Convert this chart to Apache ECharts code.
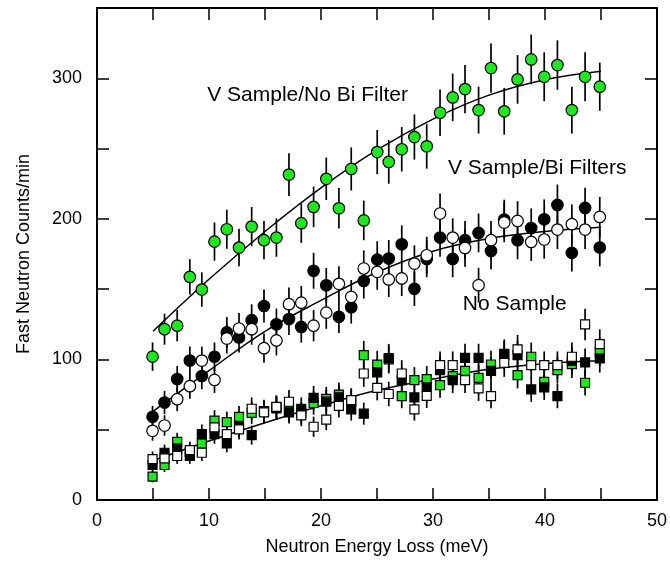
<!DOCTYPE html>
<html>
<head>
<meta charset="utf-8">
<script src="https://cdn.jsdelivr.net/npm/echarts@6/dist/echarts.min.js"></script>
<style>
html,body{margin:0;padding:0;background:#fff;}
#chart{width:670px;height:569px;}
</style>
</head>
<body>
<div id="chart"></div>
<script>
// Neutron energy loss (meV) of each measured bin
const energy = [4.96, 6.03, 7.16, 8.29, 9.36, 10.49, 11.59, 12.68, 13.81, 14.91, 16.02, 17.14, 18.24, 19.34, 20.47, 21.6, 22.7, 23.82, 25.02, 26.05, 27.21, 28.34, 29.44, 30.63, 31.76, 32.86, 34.07, 35.18, 36.36, 37.55, 38.77, 39.93, 41.11, 42.4, 43.58, 44.89];

// V Sample / No Bi Filter (green circles)
const vNoBi = [102, 121.5, 124, 158.7, 149.7, 183.8, 192.6, 179.6, 194.5, 184.8, 186.7, 231.5, 196.9, 208.5, 228.5, 207.5, 235.5, 198.9, 247.5, 240.5, 249.5, 258.2, 251.6, 275.5, 286.4, 292.3, 277.4, 307.3, 276.5, 299.2, 313.4, 301.1, 309.4, 277.4, 301.1, 294];

// V Sample / Bi Filters (black and open circles)
const vBiBlack = [59.2, 69.3, 86, 99.2, 88.2, 101.9, 119.2, 115.6, 127.9, 138, 125, 128.7, 123.1, 163.1, 152.7, 130.3, 137.2, 155.8, 171, 171.8, 181.9, 150.2, 171.5, 186.7, 171.5, 184.8, 190, 177.2, 199.5, 184.8, 193.5, 199.7, 209.9, 175.8, 207.8, 179.6];
const vBiOpen = [49.2, 53, 71.7, 81, 99.2, 85.4, 114.9, 122, 121.5, 108, 113.5, 139.3, 140.4, 124, 133.3, 153.8, 144.5, 164.7, 162.3, 156.9, 157.6, 168.2, 174.1, 203.8, 186.7, 179.3, 152.8, 184.8, 197.4, 198.5, 183.6, 185.3, 192.4, 196.2, 192.4, 201.4];

// No Sample (black, open and green squares)
const noSampleBlack = [24.9, 33.6, 36.7, 31.3, 46.9, 46.9, 40.3, 52, 46.2, 63.3, 65.1, 62.4, 64.9, 72.6, 70, 73, 64.5, 61.4, 90.8, 101, 85.3, 73, 80.1, 92.4, 85.3, 101.1, 101.1, 91.9, 104, 103, 78.7, 80.1, 73.9, 99, 97.9, 100.7];
const noSampleOpen = [29.1, 29.6, 31.3, 35.5, 33.6, 51.7, 46.9, 50.2, 64.9, 62.4, 66.3, 69.9, 60.2, 52.1, 57.2, 66.9, 71.1, 90, 79.8, 75.4, 90, 64.5, 74.1, 95.9, 95.9, 85.3, 79.4, 73.9, 97.5, 107.1, 95.9, 95.9, 95.9, 101.9, 124.9, 110.9];
const noSampleGreen = [16.6, 24.9, 41.4, 34, 40.3, 56.4, 55.4, 59.2, 62, 63, 66, 64, 62, 69, 72, 75, 70, 103, 96.3, 100, 73.9, 85.3, 86, 81.7, 88.1, 91.9, 86.9, 96.4, 103, 88.8, 101.9, 84.1, 92.4, 96.7, 83.4, 105.4];

// Smooth fitted curves
const fitEnergy = [5, 10, 15, 20, 25, 30, 35, 40, 45];
const fitNoBi = [120, 157, 191, 222, 249, 271, 288, 299, 305];
const fitBi = [63, 92, 120, 142, 162, 177, 186, 191, 194];
const fitNoSample = [28, 42, 55, 67, 78, 86, 93, 97, 99];

// Annotations [energy, counts, text]
const annotations = [
  [18.8, 288, 'V Sample/No Bi Filter'],
  [39.3, 236, 'V Sample/Bi Filters'],
  [37.3, 139.5, 'No Sample']
];

const xTickLabels = ['0', '10', '20', '30', '40', '50'];
const yTickLabels = ['0', '100', '200', '300'];

const FONT = '"Liberation Sans", Arial, Helvetica, sans-serif';
const GREEN = '#1ee81e';

function pairs(ys) { return energy.map((x, i) => [x, ys[i]]); }

function errorBars(ys) {
  return {
    type: 'custom',
    xAxisIndex: 0, yAxisIndex: 0,
    z: 1,
    silent: true,
    encode: { x: 0, y: 1 },
    data: energy.map((x, i) => [x, ys[i], Math.sqrt(ys[i])]),
    renderItem: function (params, api) {
      const x = api.value(0), y = api.value(1), e = api.value(2);
      const p1 = api.coord([x, y - e]);
      const p2 = api.coord([x, y + e]);
      return { type: 'line', shape: { x1: p1[0], y1: p1[1], x2: p2[0], y2: p2[1] },
               style: { stroke: '#000', lineWidth: 1.7 } };
    }
  };
}

function markers(ys, symbol, size, fill, z) {
  return {
    type: 'scatter', xAxisIndex: 0, yAxisIndex: 0, z: z, silent: true,
    symbol: symbol, symbolSize: size,
    itemStyle: { color: fill, borderColor: '#000', borderWidth: 1.2, opacity: 1 },
    data: pairs(ys)
  };
}

function fit(ys) {
  return {
    type: 'line', xAxisIndex: 0, yAxisIndex: 0, z: 3, silent: true,
    smooth: 0.4, showSymbol: false, symbol: 'none',
    lineStyle: { color: '#000', width: 1.5 },
    data: fitEnergy.map((x, i) => [x, ys[i]])
  };
}

function axisLine() { return { show: true, onZero: false, lineStyle: { color: '#000', width: 2 } }; }
function ticks() { return { show: true, inside: true, length: 12, lineStyle: { color: '#000', width: 1.5 } }; }

const chart = echarts.init(document.getElementById('chart'), null, { renderer: 'canvas' });
chart.setOption({
  animation: false,
  backgroundColor: '#fff',
  grid: { left: 97, right: 13, top: 8, bottom: 69, containLabel: false },
  xAxis: [
    { type: 'value', min: 0, max: 50, interval: 5, position: 'bottom',
      axisLine: axisLine(), axisTick: ticks(), splitLine: { show: false },
      axisLabel: { color: '#000', fontSize: 18, fontFamily: FONT, margin: 12,
        formatter: v => (xTickLabels.indexOf(String(v)) >= 0 ? String(v) : '') },
      name: 'Neutron Energy Loss (meV)', nameLocation: 'middle', nameGap: 38,
      nameTextStyle: { color: '#000', fontSize: 18, fontFamily: FONT } },
    { type: 'value', min: 0, max: 50, interval: 5, position: 'top',
      axisLine: axisLine(), axisTick: ticks(), splitLine: { show: false },
      axisLabel: { show: false } }
  ],
  yAxis: [
    { type: 'value', min: 0, max: 350, interval: 50, position: 'left',
      axisLine: axisLine(), axisTick: ticks(), splitLine: { show: false },
      axisLabel: { color: '#000', fontSize: 18, fontFamily: FONT, margin: 15,
        formatter: v => (yTickLabels.indexOf(String(v)) >= 0 ? String(v) : '') },
      name: 'Fast Neutron Counts/min', nameLocation: 'middle', nameGap: 64, nameRotate: 90,
      nameTextStyle: { color: '#000', fontSize: 18, fontFamily: FONT } },
    { type: 'value', min: 0, max: 350, interval: 50, position: 'right',
      axisLine: axisLine(), axisTick: ticks(), splitLine: { show: false },
      axisLabel: { show: false } }
  ],
  series: [
    errorBars(vNoBi), errorBars(vBiBlack), errorBars(vBiOpen),
    errorBars(noSampleGreen), errorBars(noSampleBlack), errorBars(noSampleOpen),
    fit(fitNoBi), fit(fitBi), fit(fitNoSample),
    markers(vNoBi, 'circle', 11.5, GREEN, 4),
    markers(vBiBlack, 'circle', 11.5, '#000', 4),
    markers(vBiOpen, 'circle', 11.5, '#fff', 4),
    markers(noSampleGreen, 'rect', 9, GREEN, 4),
    markers(noSampleBlack, 'rect', 9, '#000', 4),
    markers(noSampleOpen, 'rect', 9, '#fff', 4),
    { type: 'scatter', xAxisIndex: 0, yAxisIndex: 0, z: 5, silent: true,
      symbolSize: 0,
      data: annotations,
      label: { show: true, position: 'inside', formatter: p => p.data[2],
               color: '#000', textBorderWidth: 0, opacity: 1,
               fontSize: 21, fontFamily: FONT } }
  ]
});
</script>
</body>
</html>
